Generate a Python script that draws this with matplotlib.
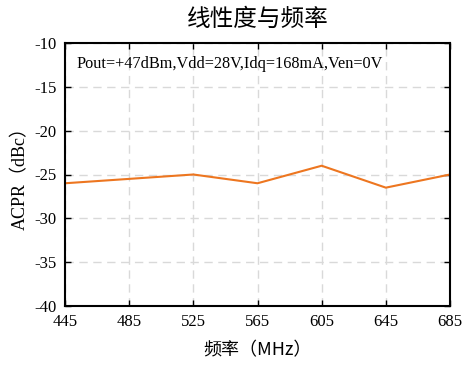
import numpy as np
import matplotlib
matplotlib.use('Agg')
import matplotlib.pyplot as plt

plt.rcParams['font.family'] = ['Liberation Serif', 'Noto Sans CJK SC']
plt.rcParams['axes.unicode_minus'] = False
plt.rcParams['xtick.direction'] = 'in'
plt.rcParams['ytick.direction'] = 'in'

freq = [445, 485, 525, 565, 605, 645, 685]
acpr = [-26, -25.5, -25, -26, -24, -26.5, -25]
xticks = [445, 485, 525, 565, 605, 645, 685]
yticks = [-40, -35, -30, -25, -20, -15, -10]

fig = plt.figure(figsize=(4.71, 3.72), dpi=100)
ax = fig.add_axes([65/471, 1 - 306/372, 385/471, 263/372])

ax.plot(freq, acpr, color='#ED7620', linewidth=1.5)
ax.set_xlim(445, 685)
ax.set_ylim(-40, -10)
ax.set_xticks(xticks)
ax.set_yticks(yticks)
ax.grid(True, linestyle=(0, (6, 4)), color='#d9d9d9', linewidth=1)
ax.tick_params(labelsize=12, length=4, width=1, top=True, right=True, pad=6)
for s in ax.spines.values():
    s.set_linewidth(1.5)

ax.text(0.03, 0.92, 'Pout=+47dBm,Vdd=28V,Idq=168mA,Ven=0V',
        transform=ax.transAxes, fontsize=11.7, va='center')
ax.set_title('线性度与频率', fontsize=17, family=['Noto Sans CJK SC'], pad=12)
ax.set_xlabel('频率（MHz）', fontsize=13, family=['Noto Sans CJK SC', 'Liberation Serif'], labelpad=8)
ax.set_ylabel('ACPR（dBc）', fontsize=13, family=['Liberation Serif', 'Noto Sans CJK SC'], labelpad=4)

fig.savefig('out.png', dpi=100)
